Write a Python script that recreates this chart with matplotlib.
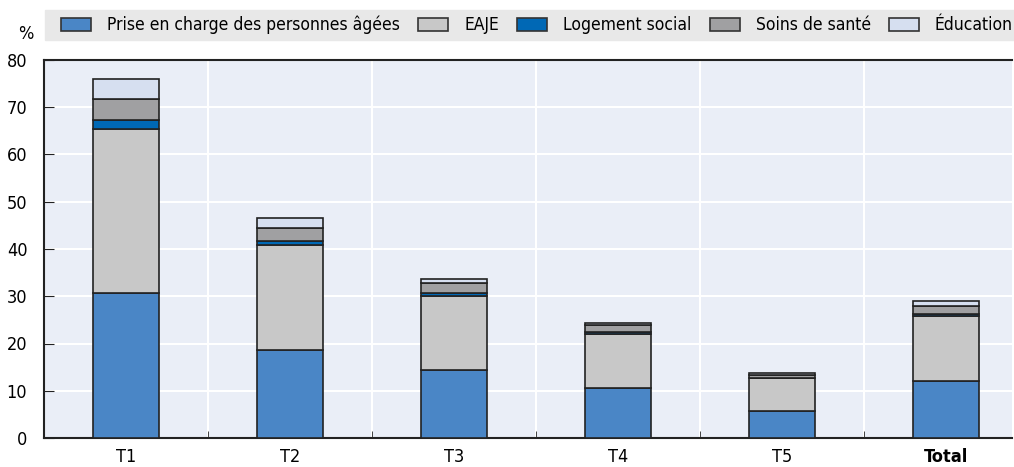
import matplotlib
matplotlib.use('Agg')
import matplotlib.pyplot as plt
from matplotlib.patches import Rectangle, Patch
import numpy as np

plt.rcParams['font.family'] = ['DejaVu Sans']
plt.rcParams['font.stretch'] = 'condensed'
plt.rcParams['font.size'] = 13

# Données (%)
categories = ['T1', 'T2', 'T3', 'T4', 'T5', 'Total']
personnes_agees = [30.6, 18.6, 14.4, 10.6, 5.7, 12.1]
eaje = [34.9, 22.2, 15.6, 11.5, 7.0, 13.7]
logement = [1.8, 0.8, 0.6, 0.3, 0.1, 0.4]
soins = [4.5, 2.9, 2.3, 1.5, 0.5, 1.7]
education = [4.1, 2.0, 0.7, 0.5, 0.5, 1.0]

series = [
    ('Prise en charge des personnes âgées', personnes_agees, '#4a86c6'),
    ('EAJE', eaje, '#c8c8c8'),
    ('Logement social', logement, '#0068b5'),
    ('Soins de santé', soins, '#a0a0a2'),
    ('Éducation', education, '#d6dff0'),
]

W, H = 1014, 467
fig = plt.figure(figsize=(W / 100, H / 100), dpi=100)
ax = fig.add_axes([44 / W, (H - 438) / H, (1012 - 44) / W, (438 - 60) / H])
ax.set_facecolor('#eaeef7')

x = np.arange(len(categories))
bottom = np.zeros(len(categories))
for label, vals, col in series:
    ax.bar(x, vals, bottom=bottom, width=0.4, color=col, edgecolor='#222222', linewidth=1.2, label=label, zorder=3)
    bottom += np.array(vals)

ax.set_ylim(0, 80)
ax.set_xlim(-0.5, (1012 - 44) / 164 - 0.5)
ax.set_yticks(range(0, 81, 10))
ax.set_xticks(x)
ax.set_xticklabels(categories)
ax.get_xticklabels()[-1].set_fontweight('bold')
ax.set_xticks(np.arange(0.5, 5, 1), minor=True)
ax.tick_params(axis='x', which='major', length=0, pad=7)
ax.tick_params(axis='x', which='minor', direction='in', length=5, color='#222222')
ax.tick_params(axis='y', direction='in', length=7, color='#222222', pad=12)
ax.grid(axis='y', color='white', linewidth=1.5, zorder=0)
ax.grid(axis='x', which='minor', color='white', linewidth=1.5, zorder=0)
ax.set_axisbelow(True)
for s in ['left', 'bottom', 'top']:
    ax.spines[s].set_color('#222222')
    ax.spines[s].set_linewidth(1.5)
ax.spines['right'].set_visible(False)

# Bandeau de légende
fig.patches.append(Rectangle((45 / W, (H - 40) / H), (W - 45) / W, 30 / H,
                             transform=fig.transFigure, color='#e8e8e8', zorder=0))
handles = [Patch(facecolor=c, edgecolor='#333333', linewidth=1.2) for _, _, c in series]
fig.legend(handles, [s[0] for s in series], loc='center right',
           bbox_to_anchor=(1013 / W, (H - 25) / H), ncol=5, frameon=False,
           fontsize=12.5, handlelength=1.75, handleheight=0.75, handletextpad=0.9,
           columnspacing=1.05, borderpad=0, borderaxespad=0)
fig.text(26 / W, (H - 34) / H, '%', ha='center', va='center', fontsize=13)

fig.savefig('out.png', dpi=100)
